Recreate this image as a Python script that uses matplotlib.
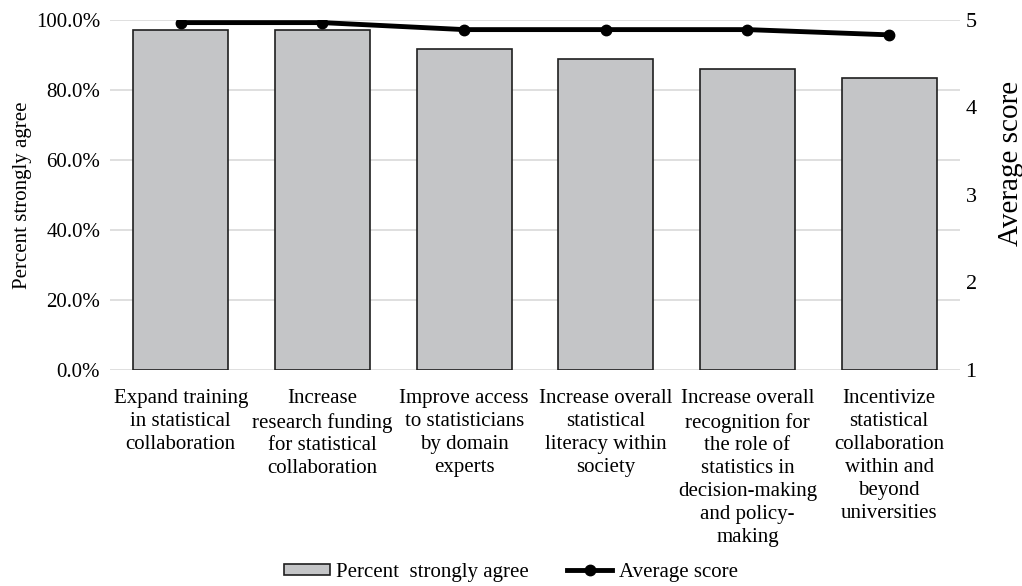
import matplotlib
matplotlib.use("Agg")
import matplotlib.pyplot as plt
import numpy as np
from matplotlib.lines import Line2D
from matplotlib.patches import Patch

plt.rcParams['font.family'] = ['Liberation Serif', 'DejaVu Serif']

categories = [
    "Expand training\nin statistical\ncollaboration",
    "Increase\nresearch funding\nfor statistical\ncollaboration",
    "Improve access\nto statisticians\nby domain\nexperts",
    "Increase overall\nstatistical\nliteracy within\nsociety",
    "Increase overall\nrecognition for\nthe role of\nstatistics in\ndecision-making\nand policy-\nmaking",
    "Incentivize\nstatistical\ncollaboration\nwithin and\nbeyond\nuniversities",
]
pct_strongly_agree = [97.2, 97.2, 91.7, 88.9, 86.1, 83.3]
average_score = [4.97, 4.97, 4.89, 4.89, 4.89, 4.83]

bar_color = "#c4c5c7"
edge_color = "#1f1f1f"
grid_color = "#d9d9d9"
fs = 15

fig = plt.figure(figsize=(10.22, 5.86), dpi=100)
ax = fig.add_axes([0.1076, 0.3686, 0.8317, 0.5973])
x = np.arange(len(categories))

ax.bar(x, pct_strongly_agree, width=0.67, color=bar_color,
       edgecolor=edge_color, linewidth=1.2, zorder=2)
ax.set_xlim(-0.5, len(categories) - 0.5)
ax.set_ylim(0, 100)
ax.set_yticks(np.arange(0, 101, 20))
ax.set_yticklabels([f"{v:.1f}%" for v in np.arange(0, 101, 20)], fontsize=fs)
ax.yaxis.grid(True, color=grid_color, linewidth=1.2, zorder=0)
ax.set_axisbelow(True)
ax.set_xticks(x)
ax.set_xticklabels(categories, fontsize=fs, linespacing=1.28, va="top")
ax.tick_params(axis="y", length=0, pad=7)
ax.tick_params(axis="x", length=0, pad=14)
for s in ax.spines.values():
    s.set_visible(False)
ax.set_ylabel("Percent strongly agree", fontsize=fs, labelpad=3)

ax2 = ax.twinx()
ax2.plot(x, average_score, color="black", linewidth=3.5, marker="o",
         markersize=7.5, zorder=3)
ax2.set_ylim(1, 5)
ax2.set_yticks([1, 2, 3, 4, 5])
ax2.set_yticklabels(["1", "2", "3", "4", "5"], fontsize=16)
ax2.tick_params(axis="y", length=0, pad=4)
for s in ax2.spines.values():
    s.set_visible(False)
ax2.set_ylabel("Average score", fontsize=21)
ax2.yaxis.set_label_coords(1.0447, 0.59)

handles = [
    Patch(facecolor=bar_color, edgecolor=edge_color, linewidth=1.2),
    Line2D([0], [0], color="black", linewidth=3.5, marker="o", markersize=7.5),
]
fig.legend(handles, ["Percent  strongly agree", "Average score"],
           loc="lower center", bbox_to_anchor=(0.5, -0.025), ncol=2,
           frameon=False, fontsize=fs, handlelength=2.2, handleheight=0.45,
           columnspacing=1.8, handletextpad=0.3)

fig.savefig("out.png", dpi=100)
